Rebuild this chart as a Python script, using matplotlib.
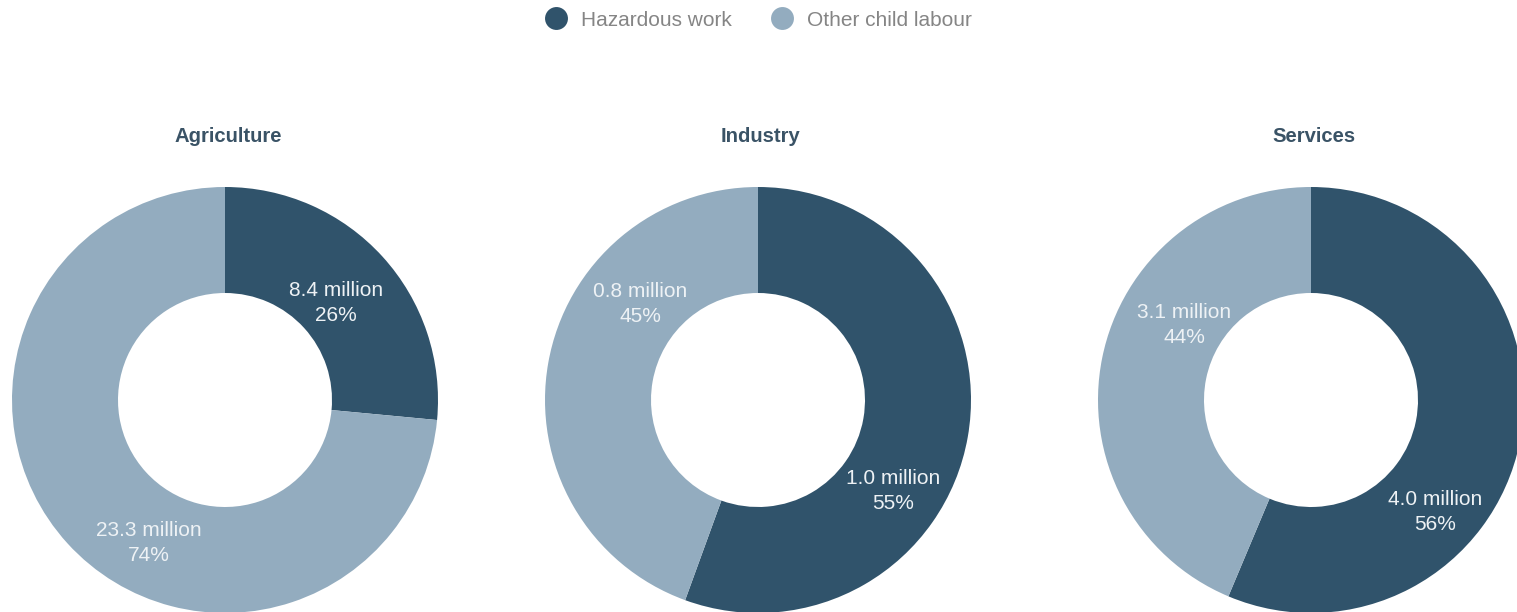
import matplotlib.pyplot as plt
from matplotlib.lines import Line2D

# data
sectors = ["Agriculture", "Industry", "Services"]
hazardous_million = [8.4, 1.0, 4.0]
other_million = [23.3, 0.8, 3.1]
hazardous_pct = [26, 55, 56]
other_pct = [74, 45, 44]
series_names = ["Hazardous work", "Other child labour"]

# style
DARK = "#30536b"
LIGHT = "#93acbf"
TITLE_COLOR = "#3a5366"
LABEL_COLOR = "#eef2f5"
LEGEND_TEXT = "#858585"
FONT = ["Liberation Sans", "DejaVu Sans"]

W, H = 1517, 612
fig = plt.figure(figsize=(W / 100, H / 100), dpi=100)
ax = fig.add_axes([0, 0, 1, 1])

# layout in pixels (top-left origin), converted below
centers_x = [225, 758, 1311]
center_y = 400
r_out, r_in = 213, 107
# label offsets (dx, dy-up) for hazardous / other
haz_off = [(111, 97), (135, -91), (124, -112)]
oth_off = [(-76, -143), (-118, 96), (-127, 75)]

for i, name in enumerate(sectors):
    cx, cy = centers_x[i], H - center_y
    ax.pie(
        [hazardous_million[i], other_million[i]],
        colors=[DARK, LIGHT],
        center=(cx, cy),
        radius=r_out,
        startangle=90,
        counterclock=False,
        wedgeprops=dict(width=r_out - r_in, edgecolor="none", linewidth=0),
    )
    ax.text(cx + 3, H - 137, name, ha="center", va="center", fontsize=14.6,
            fontweight="bold", color=TITLE_COLOR, family=FONT)
    for off, val, pct in [
        (haz_off[i], hazardous_million[i], hazardous_pct[i]),
        (oth_off[i], other_million[i], other_pct[i]),
    ]:
        ax.text(cx + off[0], cy + off[1], f"{val:.1f} million\n{pct}%",
                ha="center", va="center", fontsize=15, color=LABEL_COLOR,
                family=FONT, linespacing=1.45)

ax.set_xlim(0, W)
ax.set_ylim(0, H)
ax.set_aspect("auto")
ax.axis("off")

handles = [
    Line2D([], [], marker="o", linestyle="none", markersize=16.5,
           markerfacecolor=c, markeredgecolor="none")
    for c in [DARK, LIGHT]
]
leg = fig.legend(handles, series_names, loc="center", bbox_to_anchor=(0.5, 1 - 20 / H),
                 ncol=2, frameon=False, handletextpad=0.7, columnspacing=1.9,
                 prop=dict(family=FONT, size=15), handlelength=1.0)
for t in leg.get_texts():
    t.set_color(LEGEND_TEXT)

fig.savefig("out.png", dpi=100)
